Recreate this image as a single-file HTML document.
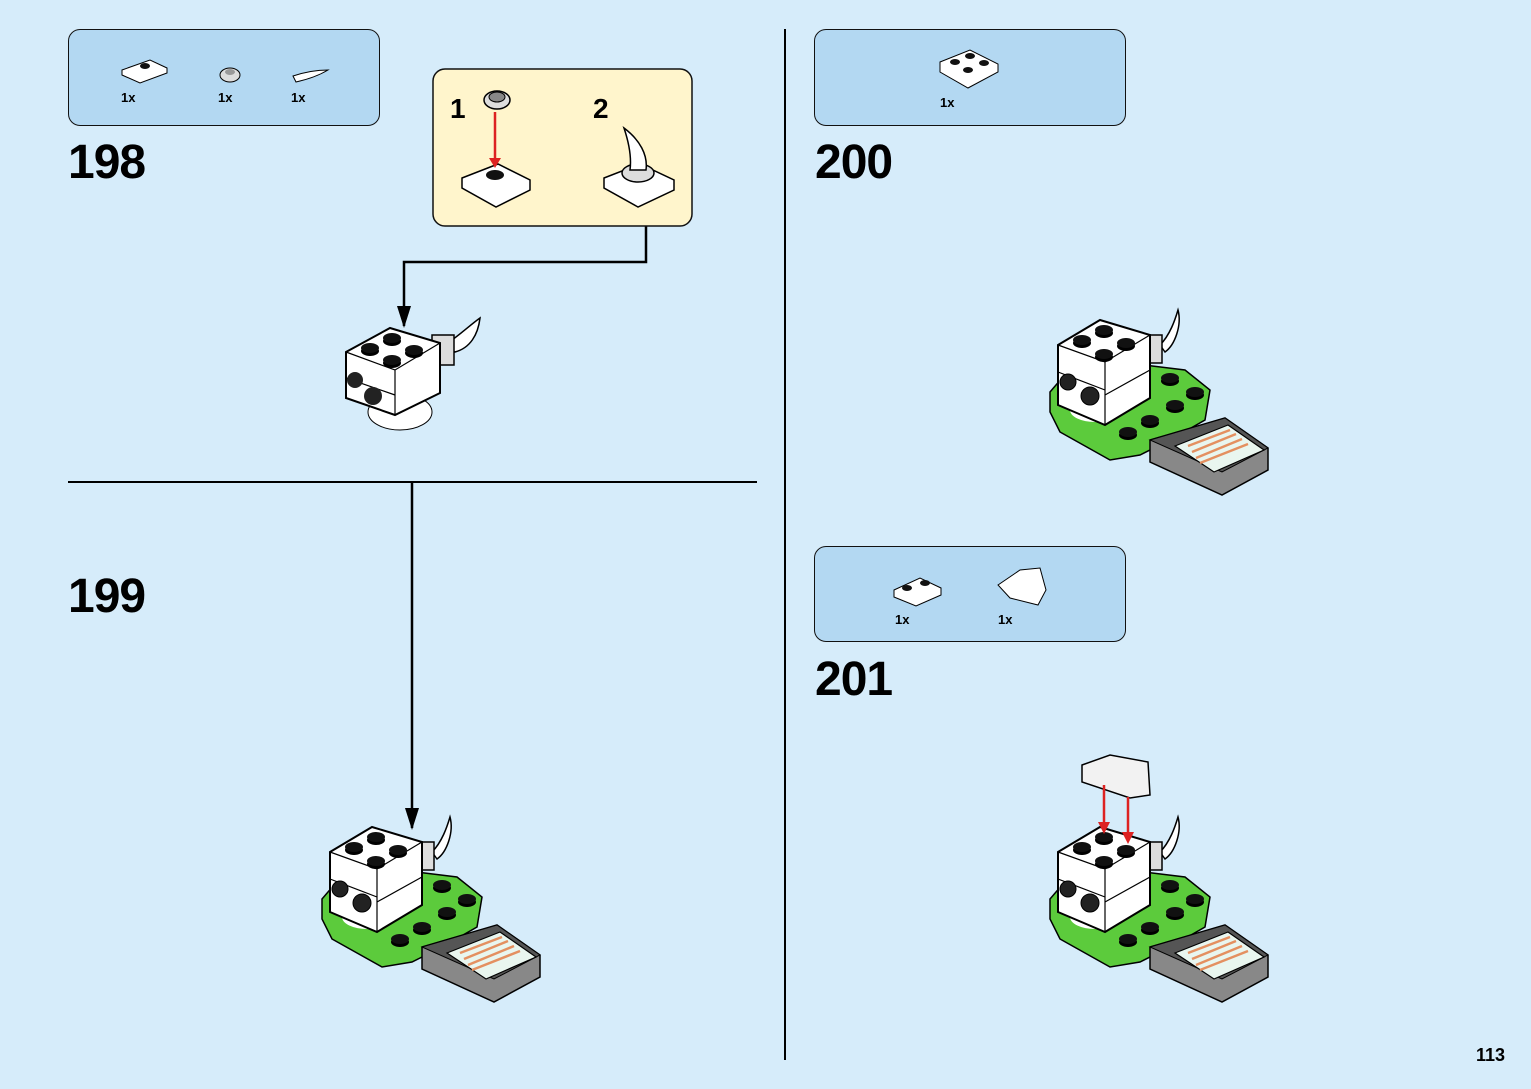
<!DOCTYPE html>
<html><head><meta charset="utf-8"><style>
html,body{margin:0;padding:0}
body{width:1531px;height:1089px;background:#d6ecfa;position:relative;overflow:hidden;font-family:"Liberation Sans",Arial,sans-serif}
.num{position:absolute;font-weight:bold;font-size:48px;letter-spacing:-1px;color:#000;line-height:1}
.box{position:absolute;background:#b3d8f2;border:1.5px solid #111;border-radius:12px;box-sizing:border-box}
.q{position:absolute;font-weight:bold;font-size:13px}
</style></head><body>
<svg width="1531" height="1089" style="position:absolute;left:0;top:0">
<defs>
<marker id="ar" markerWidth="22" markerHeight="14" refX="20" refY="7" orient="auto" markerUnits="userSpaceOnUse"><path d="M0,0 L22,7 L0,14 z" fill="#000"/></marker>
<g id="stud"><ellipse cx="0" cy="3" rx="9" ry="5" fill="#000"/><ellipse cx="0" cy="0" rx="9" ry="5" fill="#111"/></g>
<g id="head">
<path d="M1160,345 C1170,335 1175,320 1178,310 C1182,325 1175,345 1165,352 Z" fill="#fff" stroke="#000" stroke-width="1.5"/>
<rect x="1140" y="335" width="22" height="28" fill="#ddd" stroke="#000" stroke-width="1.5"/>
<path d="M1058,345 L1100,320 L1150,335 L1150,398 L1105,425 L1058,405 Z" fill="#fff" stroke="#000" stroke-width="2"/>
<path d="M1058,345 L1105,362 L1150,335 M1105,362 L1105,425 M1058,372 L1105,390 M1105,395 L1150,370" fill="none" stroke="#000" stroke-width="1.2"/>
<use href="#stud" x="1082" y="340"/><use href="#stud" x="1104" y="330"/><use href="#stud" x="1104" y="354"/><use href="#stud" x="1126" y="343"/>
<circle cx="1068" cy="382" r="8" fill="#222" stroke="#000"/><circle cx="1090" cy="396" r="9" fill="#222" stroke="#000"/>
</g>
<g id="model">
<path d="M1050,392 L1062,378 L1120,362 L1185,370 L1210,390 L1205,420 L1170,440 L1140,455 L1110,460 L1060,432 L1050,412 Z" fill="#5ccb3c" stroke="#000" stroke-width="1.5"/>
<use href="#stud" x="1170" y="378"/><use href="#stud" x="1195" y="392"/><use href="#stud" x="1175" y="405"/><use href="#stud" x="1150" y="420"/><use href="#stud" x="1128" y="432"/>
<path d="M1150,440 L1225,418 L1268,448 L1268,470 L1222,495 L1150,462 Z" fill="#888" stroke="#000" stroke-width="1.5"/>
<path d="M1150,440 L1225,418 L1268,448 L1222,472 Z" fill="#555" stroke="#000" stroke-width="1"/>
<path d="M1175,446 L1228,425 L1264,450 L1214,472 Z" fill="#e9f6ef" stroke="#000" stroke-width="1.2"/>
<path d="M1188,446 L1230,430 M1192,452 L1236,434 M1196,458 L1242,439 M1200,463 L1248,444" stroke="#e49060" stroke-width="2.5"/>
<ellipse cx="1095" cy="410" rx="25" ry="12" fill="#fff"/>
<use href="#head"/>
</g>
</defs>
<line x1="785" y1="29" x2="785" y2="1060" stroke="#000" stroke-width="2"/>
<line x1="68" y1="482" x2="757" y2="482" stroke="#000" stroke-width="2"/>
<line x1="412" y1="482" x2="412" y2="828" stroke="#000" stroke-width="2.5" marker-end="url(#ar)"/>
<polyline points="646,226 646,262 404,262 404,326" fill="none" stroke="#000" stroke-width="2.5" marker-end="url(#ar)"/>
<rect x="433" y="69" width="259" height="157" rx="12" fill="#fff5cc" stroke="#111" stroke-width="1.5"/>
<path d="M462,178 L498,164 L530,180 L530,190 L496,207 L462,188 Z" fill="#fff" stroke="#000" stroke-width="1.5"/>
<ellipse cx="495" cy="175" rx="9" ry="5" fill="#111"/>
<line x1="495" y1="112" x2="495" y2="160" stroke="#d22" stroke-width="2.5"/><path d="M489,158 L501,158 L495,168 z" fill="#d22"/>
<ellipse cx="497" cy="100" rx="13" ry="9" fill="#ddd" stroke="#000" stroke-width="1.5"/><ellipse cx="497" cy="97" rx="8" ry="5" fill="#888" stroke="#000"/>
<path d="M604,178 L640,164 L674,180 L674,190 L638,207 L604,188 Z" fill="#fff" stroke="#000" stroke-width="1.5"/>
<ellipse cx="638" cy="173" rx="16" ry="9" fill="#ddd" stroke="#000" stroke-width="1.5"/>
<path d="M630,170 C632,155 628,140 624,128 C640,140 648,155 646,170 Z" fill="#fff" stroke="#000" stroke-width="1.5"/>
<path d="M445,345 C460,335 470,325 480,318 C478,335 470,348 455,352 Z" fill="#fff" stroke="#000" stroke-width="1.5"/>
<rect x="432" y="335" width="22" height="30" fill="#ddd" stroke="#000" stroke-width="1.5"/>
<ellipse cx="400" cy="412" rx="32" ry="18" fill="#fff" stroke="#000" stroke-width="1"/>
<path d="M346,352 L390,328 L440,343 L440,393 L395,415 L346,398 Z" fill="#fff" stroke="#000" stroke-width="2"/>
<path d="M346,352 L395,370 L440,343 M395,370 L395,415 M346,378 L395,395" fill="none" stroke="#000" stroke-width="1.2"/>
<use href="#stud" x="370" y="348"/><use href="#stud" x="392" y="338"/><use href="#stud" x="392" y="360"/><use href="#stud" x="414" y="350"/>
<circle cx="355" cy="380" r="8" fill="#222"/><circle cx="373" cy="396" r="9" fill="#222"/>
<use href="#model"/>
<use href="#model" transform="translate(-728,507)"/>
<use href="#model" transform="translate(0,507)"/>
<path d="M1082,765 L1110,755 L1148,762 L1150,795 L1130,798 L1082,782 Z" fill="#f2f2f2" stroke="#000" stroke-width="1.5"/>
<line x1="1104" y1="785" x2="1104" y2="825" stroke="#d22" stroke-width="2.5"/><path d="M1098,822 L1110,822 L1104,834 z" fill="#d22"/>
<line x1="1128" y1="797" x2="1128" y2="835" stroke="#d22" stroke-width="2.5"/><path d="M1122,832 L1134,832 L1128,844 z" fill="#d22"/>
</svg>
<div class="box" style="left:68px;top:29px;width:312px;height:97px"></div>
<div class="box" style="left:814px;top:29px;width:312px;height:97px"></div>
<div class="box" style="left:814px;top:546px;width:312px;height:96px"></div>
<svg width="1531" height="1089" style="position:absolute;left:0;top:0">
<path d="M122,70 L150,60 L167,68 L167,73 L140,83 L122,75 Z" fill="#fff" stroke="#000"/><ellipse cx="145" cy="66" rx="5" ry="3" fill="#111"/>
<ellipse cx="230" cy="75" rx="10" ry="7" fill="#ddd" stroke="#000"/><ellipse cx="230" cy="72" rx="5" ry="3" fill="#999"/>
<path d="M293,76 C305,72 318,70 328,70 C318,76 305,80 296,82 Z" fill="#fff" stroke="#000"/>
<path d="M940,62 L970,50 L998,64 L998,72 L968,88 L940,72 Z" fill="#fff" stroke="#000"/>
<ellipse cx="955" cy="62" rx="5" ry="3" fill="#111"/><ellipse cx="970" cy="56" rx="5" ry="3" fill="#111"/><ellipse cx="968" cy="70" rx="5" ry="3" fill="#111"/><ellipse cx="984" cy="63" rx="5" ry="3" fill="#111"/>
<path d="M894,590 L920,578 L941,588 L941,595 L916,606 L894,597 Z" fill="#fff" stroke="#000"/>
<ellipse cx="907" cy="588" rx="5" ry="3" fill="#111"/><ellipse cx="925" cy="583" rx="5" ry="3" fill="#111"/>
<path d="M998,585 L1020,570 L1040,568 L1046,590 L1038,605 L1010,598 Z" fill="#fff" stroke="#000"/>
</svg>
<div class="q" style="left:121px;top:90px">1x</div>
<div class="q" style="left:218px;top:90px">1x</div>
<div class="q" style="left:291px;top:90px">1x</div>
<div class="q" style="left:940px;top:95px">1x</div>
<div class="q" style="left:895px;top:612px">1x</div>
<div class="q" style="left:998px;top:612px">1x</div>
<div class="num" style="left:68px;top:139px">198</div>
<div class="num" style="left:68px;top:573px">199</div>
<div class="num" style="left:815px;top:139px">200</div>
<div class="num" style="left:815px;top:656px">201</div>
<div style="position:absolute;left:450px;top:93px;font-weight:bold;font-size:28px">1</div>
<div style="position:absolute;left:593px;top:93px;font-weight:bold;font-size:28px">2</div>
<div style="position:absolute;left:1476px;top:1045px;font-weight:bold;font-size:18px">113</div>
</body></html>
